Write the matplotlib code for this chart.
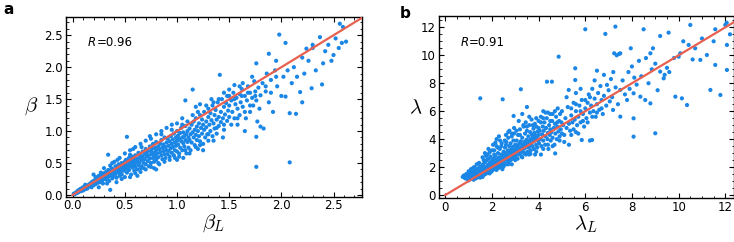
import numpy as np
import matplotlib.pyplot as plt
from matplotlib.ticker import MultipleLocator

plt.rcParams['mathtext.fontset'] = 'cm'
plt.rcParams['font.family'] = 'DejaVu Sans'

BLUE = '#1a86e6'
RED = '#e8604f'

# ---------------- panel a : beta_L vs beta ----------------
points_a = [
    (0.01,0.02),(0.02,0.01),(0.03,0.04),(0.04,0.03),(0.05,0.07),(0.05,0.04),(0.06,0.05),(0.07,0.09),
    (0.08,0.06),(0.08,0.1),(0.09,0.08),(0.1,0.12),(0.1,0.07),(0.11,0.1),(0.12,0.14),(0.12,0.09),
    (0.13,0.11),(0.14,0.15),(0.14,0.1),(0.15,0.13),(0.12,0.16),
    (0.16,0.17),(0.17,0.14),(0.18,0.2),(0.18,0.12),(0.19,0.17),(0.2,0.22),(0.2,0.15),(0.21,0.19),
    (0.22,0.25),(0.22,0.17),(0.23,0.21),(0.24,0.27),(0.24,0.19),(0.25,0.23),(0.25,0.3),(0.26,0.2),
    (0.26,0.26),(0.27,0.24),(0.28,0.31),(0.28,0.21),(0.29,0.27),(0.3,0.25),(0.3,0.34),(0.22,0.28),
    (0.27,0.35),(0.29,0.18),(0.36,0.08),
    (0.31,0.29),(0.32,0.36),(0.32,0.24),(0.33,0.31),(0.34,0.39),(0.34,0.28),(0.35,0.33),(0.35,0.22),
    (0.36,0.37),(0.37,0.3),(0.37,0.42),(0.38,0.34),(0.38,0.26),(0.39,0.4),(0.4,0.36),(0.4,0.3),
    (0.41,0.45),(0.41,0.33),(0.42,0.39),(0.42,0.27),(0.43,0.42),(0.44,0.35),(0.44,0.48),(0.45,0.4),
    (0.45,0.3),(0.46,0.44),(0.46,0.36),(0.47,0.5),(0.47,0.32),(0.48,0.42),(0.48,0.47),(0.49,0.38),
    (0.5,0.45),(0.5,0.52),(0.34,0.63),(0.38,0.5),(0.43,0.55),(0.36,0.46),(0.47,0.25),
    (0.51,0.41),(0.51,0.55),(0.52,0.48),(0.52,0.35),(0.53,0.51),(0.53,0.44),(0.54,0.58),(0.54,0.39),
    (0.55,0.5),(0.55,0.46),(0.56,0.54),(0.56,0.32),(0.57,0.6),(0.57,0.43),(0.58,0.52),(0.58,0.48),
    (0.59,0.56),(0.59,0.38),(0.6,0.62),(0.6,0.5),(0.6,0.44),(0.61,0.57),(0.62,0.53),(0.62,0.4),
    (0.63,0.66),(0.63,0.47),(0.64,0.58),(0.64,0.51),(0.65,0.62),(0.65,0.36),(0.66,0.55),(0.66,0.45),
    (0.67,0.68),(0.67,0.6),(0.68,0.5),(0.68,0.42),(0.69,0.64),(0.69,0.56),(0.7,0.72),(0.7,0.48),
    (0.52,0.91),(0.58,0.72),(0.62,0.3),(0.55,0.63),(0.66,0.75),
    (0.71,0.6),(0.71,0.66),(0.72,0.53),(0.72,0.7),(0.73,0.62),(0.73,0.45),(0.74,0.76),(0.74,0.57),
    (0.75,0.68),(0.75,0.5),(0.76,0.64),(0.76,0.72),(0.77,0.58),(0.77,0.8),(0.78,0.66),(0.78,0.52),
    (0.79,0.74),(0.79,0.61),(0.8,0.7),(0.8,0.83),(0.8,0.55),(0.81,0.65),(0.82,0.76),(0.82,0.59),
    (0.83,0.72),(0.83,0.48),(0.84,0.8),(0.84,0.67),(0.85,0.62),(0.85,0.86),(0.86,0.74),(0.86,0.56),
    (0.87,0.69),(0.87,0.79),(0.88,0.64),(0.88,0.9),(0.89,0.75),(0.89,0.58),(0.9,0.82),(0.9,0.7),
    (0.74,0.92),(0.78,0.42),(0.85,0.95),(0.8,0.4),
    (0.91,0.64),(0.91,0.88),(0.92,0.77),(0.92,0.69),(0.93,0.84),(0.93,0.6),(0.94,0.92),(0.94,0.73),
    (0.95,0.8),(0.95,0.66),(0.96,0.87),(0.96,0.75),(0.97,0.96),(0.97,0.62),(0.98,0.82),(0.98,0.7),
    (0.99,0.9),(0.99,0.77),(1.0,0.85),(1.0,1.0),(1.0,0.68),(1.01,0.93),(1.01,0.79),(1.02,0.88),
    (1.02,0.6),(1.03,0.97),(1.03,0.74),(1.04,0.84),(1.04,1.05),(1.05,0.9),(1.05,0.7),(1.06,0.81),
    (1.06,0.98),(1.07,0.76),(1.07,0.92),(1.08,0.86),(1.08,1.08),(1.09,0.65),(1.09,0.95),(1.1,0.83),
    (1.1,1.0),(0.95,1.1),(1.05,1.2),(1.08,1.48),(1.0,0.55),(1.06,0.58),
    (1.11,0.9),(1.11,0.74),(1.12,1.04),(1.12,0.86),(1.13,0.95),(1.13,0.7),(1.14,1.1),(1.14,0.82),
    (1.15,0.98),(1.15,1.65),(1.16,0.9),(1.16,1.15),(1.17,0.78),(1.17,1.02),(1.18,0.94),(1.18,1.2),
    (1.19,0.86),(1.19,1.07),(1.2,1.0),(1.2,0.72),(1.21,1.12),(1.21,0.92),(1.22,1.25),(1.22,0.84),
    (1.23,1.05),(1.24,0.96),(1.24,1.18),(1.25,0.8),(1.25,1.1),(1.26,1.02),(1.26,1.3),(1.27,0.9),
    (1.28,1.15),(1.28,1.06),(1.29,0.95),(1.3,1.22),(1.3,1.35),(1.3,0.85),(1.18,1.38),(1.25,0.7),
    (1.22,1.42),
    (1.31,1.1),(1.32,1.0),(1.32,1.28),(1.33,1.17),(1.34,0.92),(1.34,1.4),(1.35,1.12),(1.36,1.25),
    (1.36,1.04),(1.37,1.33),(1.38,1.18),(1.38,0.96),(1.39,1.45),(1.4,1.22),(1.4,1.08),(1.41,1.88),
    (1.42,1.3),(1.42,1.14),(1.43,1.5),(1.44,1.2),(1.45,1.38),(1.45,1.02),(1.46,1.26),(1.47,1.44),
    (1.48,1.16),(1.48,1.55),(1.49,1.32),(1.5,1.22),(1.5,1.4),(1.35,0.85),(1.44,0.9),
    (1.52,1.48),(1.53,1.3),(1.54,1.6),(1.55,1.2),(1.56,1.42),(1.57,1.52),(1.58,1.35),(1.6,1.58),
    (1.6,1.25),(1.61,1.45),(1.62,1.66),(1.63,1.38),(1.65,1.55),(1.66,1.2),(1.67,1.48),(1.68,1.7),
    (1.7,1.6),(1.7,1.3),(1.72,1.52),(1.73,1.4),(1.74,1.78),(1.75,1.62),(1.76,1.48),(1.77,1.15),
    (1.78,1.68),(1.79,1.35),(1.8,1.56),(1.8,1.07),(1.83,1.04),(1.76,0.91),(1.76,0.44),(1.76,2.06),
    (1.58,1.1),(1.65,1.0),(1.72,1.85),(1.55,1.72),
    (1.82,1.75),(1.85,1.62),(1.86,1.9),(1.88,2.21),(1.88,1.45),(1.9,1.8),(1.92,1.3),(1.94,1.95),
    (1.96,1.7),(1.98,2.51),(2.0,1.55),(2.02,1.85),(2.04,2.38),(2.04,1.54),(2.06,1.95),(2.08,1.28),
    (2.08,0.51),(2.1,1.75),(2.12,2.0),(2.14,1.27),(2.15,1.85),(2.18,1.61),(2.2,2.15),(2.22,1.9),
    (2.24,2.29),(2.26,2.1),(2.29,1.67),(2.3,2.3),(2.33,1.95),(2.37,2.47),(2.39,1.73),(2.4,2.06),
    (2.42,2.25),(2.45,2.35),(2.48,2.1),(2.5,2.19),(2.52,2.45),(2.56,2.68),(2.58,2.38),(2.59,2.63),
    (2.62,2.4),(2.2,1.45),(1.95,2.1),(2.3,2.35),(2.55,2.3),
    # edges of the dense band
    (0.2,0.32),(0.25,0.12),(0.3,0.42),(0.33,0.18),(0.4,0.52),(0.42,0.2),(0.45,0.58),(0.5,0.28),
    (0.5,0.65),(0.55,0.7),(0.55,0.28),(0.6,0.75),(0.6,0.34),(0.65,0.8),(0.65,0.42),(0.7,0.85),
    (0.7,0.4),(0.75,0.88),(0.75,0.44),(0.8,0.95),(0.82,0.5),(0.85,1.0),(0.88,0.52),(0.9,1.05),
    (0.93,0.55),(0.95,1.02),(0.98,0.58),(1.0,1.12),(1.02,0.65),(1.05,1.1),(1.08,0.7),(1.1,1.15),
    (1.12,0.65),(1.15,1.25),(1.18,0.75),(1.2,1.3),(1.22,0.78),(1.28,1.4),(1.3,0.95),(1.35,1.45),
    (1.38,1.05),(1.4,1.5),(1.45,1.1),(1.5,1.55),(1.52,1.1),(1.55,1.5),(1.58,1.2),(1.62,1.55),
    (1.65,1.3),(1.68,1.6),(1.7,1.4),(1.75,1.55),(1.63,1.75),(1.45,1.6),(1.33,1.5),(1.5,1.65),
    (1.6,1.7),(1.9,1.6),(1.85,1.7),(1.95,1.85),
]

# ---------------- panel b : lambda_L vs lambda ----------------
points_b = [
    (0.75,1.3),(0.8,1.4),(0.85,1.2),(0.9,1.35),(0.9,1.5),(0.95,1.15),(0.95,1.28),(1.0,1.4),
    (1.0,1.05),(1.02,1.6),(1.05,1.25),(1.08,1.45),(1.1,1.15),(1.12,1.35),(1.15,1.7),(1.15,1.5),
    (1.18,1.25),(1.2,1.4),(1.22,1.1),(1.25,1.55),(1.28,1.3),(1.3,1.8),(1.3,1.45),(1.32,1.2),
    (1.35,1.6),(1.38,1.38),(1.4,1.9),(1.4,1.28),(1.42,1.5),(1.45,1.7),(1.47,1.35),(1.5,1.55),
    (1.5,2.05),(1.5,1.25),(1.1,1.85),(1.25,2.0),
    (1.52,1.42),(1.54,1.8),(1.56,1.62),(1.58,1.35),(1.6,1.95),(1.6,1.5),(1.62,2.2),(1.64,1.7),
    (1.66,1.45),(1.68,1.85),(1.7,2.35),(1.7,1.6),(1.72,2.0),(1.74,1.52),(1.76,1.75),(1.78,2.5),
    (1.8,1.9),(1.8,1.62),(1.82,2.15),(1.84,1.8),(1.86,2.6),(1.88,1.7),(1.9,2.05),(1.9,2.3),
    (1.92,1.85),(1.94,2.75),(1.96,1.65),(1.98,2.2),(2.0,1.95),(2.0,2.45),(1.75,2.8),(1.65,2.5),
    (1.9,3.05),(1.5,6.92),
    (2.02,1.75),(2.04,2.1),(2.06,2.6),(2.08,1.9),(2.1,2.35),(2.1,3.2),(2.12,2.05),(2.14,2.8),
    (2.16,1.85),(2.18,2.25),(2.2,2.55),(2.2,3.5),(2.22,2.0),(2.24,2.4),(2.26,3.0),(2.28,2.15),
    (2.3,2.7),(2.3,1.95),(2.32,2.45),(2.34,3.3),(2.36,2.25),(2.38,2.6),(2.4,2.9),(2.4,2.05),
    (2.42,3.7),(2.44,2.35),(2.46,2.75),(2.48,2.15),(2.5,3.1),(2.5,2.5),(2.2,4.0),(2.35,3.9),
    (2.45,1.85),(2.15,3.75),(2.3,4.2),(2.46,6.85),
    (2.52,2.3),(2.54,2.85),(2.56,3.4),(2.58,2.6),(2.6,2.2),(2.6,3.0),(2.62,3.8),(2.64,2.75),
    (2.66,2.45),(2.68,3.2),(2.7,2.9),(2.7,4.1),(2.72,2.35),(2.74,3.5),(2.76,2.65),(2.78,3.05),
    (2.8,2.5),(2.8,3.7),(2.82,3.25),(2.84,2.8),(2.86,4.4),(2.88,3.0),(2.9,2.6),(2.9,3.45),
    (2.92,3.9),(2.94,2.95),(2.96,3.2),(2.98,2.7),(3.0,3.6),(3.0,3.05),(2.75,4.6),(2.95,4.8),
    (2.6,4.3),(2.85,2.2),(2.93,5.66),
    (3.02,2.8),(3.04,3.35),(3.06,3.9),(3.08,3.1),(3.1,2.6),(3.1,3.55),(3.12,4.3),(3.14,3.2),
    (3.16,2.9),(3.18,3.7),(3.2,3.4),(3.2,4.7),(3.22,3.0),(3.24,3.85),(3.26,3.25),(3.28,2.75),
    (3.3,3.6),(3.3,4.1),(3.32,3.15),(3.34,3.45),(3.36,4.9),(3.38,3.0),(3.4,3.8),(3.4,3.35),
    (3.42,4.4),(3.44,3.6),(3.46,2.9),(3.48,3.95),(3.5,3.45),(3.5,4.6),(3.3,5.8),(3.5,6.3),
    (3.45,5.2),(3.15,5.3),(3.24,7.57),
    (3.52,3.1),(3.54,3.7),(3.56,4.2),(3.58,3.4),(3.6,3.9),(3.6,5.0),(3.62,3.55),(3.64,4.5),
    (3.66,3.2),(3.68,4.0),(3.7,3.75),(3.7,5.4),(3.72,4.3),(3.74,3.5),(3.76,4.1),(3.78,4.75),
    (3.8,3.85),(3.8,3.3),(3.82,4.45),(3.84,5.1),(3.86,3.95),(3.88,4.25),(3.9,3.6),(3.9,4.9),
    (3.92,4.1),(3.94,3.4),(3.96,4.55),(3.98,3.9),(4.0,4.3),(4.0,5.3),(3.65,2.95),(3.85,2.9),
    (4.02,3.7),(4.05,4.6),(4.08,4.0),(4.1,5.6),(4.12,3.5),(4.15,4.35),(4.18,4.9),(4.2,3.9),
    (4.22,4.6),(4.25,5.2),(4.28,3.6),(4.3,4.2),(4.32,4.8),(4.35,5.5),(4.38,4.0),(4.4,4.45),
    (4.42,3.3),(4.45,5.0),(4.48,4.3),(4.5,4.7),(4.5,5.8),(4.2,6.0),(4.4,5.9),(4.1,2.9),
    (4.36,8.11),(4.57,8.11),
    (4.52,3.9),(4.55,4.5),(4.58,5.3),(4.6,4.1),(4.65,4.8),(4.68,3.6),(4.7,5.1),(4.71,2.98),
    (4.72,4.4),(4.75,5.6),(4.78,4.0),(4.8,4.9),(4.82,6.2),(4.85,4.55),(4.86,9.9),(4.88,5.3),
    (4.9,4.2),(4.92,5.8),(4.95,4.7),(4.98,5.2),(5.0,4.4),(5.0,6.0),
    (5.05,5.0),(5.1,4.3),(5.15,5.5),(5.2,4.8),(5.25,6.3),(5.29,7.52),(5.3,5.1),(5.35,4.6),
    (5.4,5.7),(5.45,5.2),(5.5,6.6),(5.5,4.7),(5.55,5.4),(5.57,9.07),(5.57,8.23),(5.6,6.0),
    (5.65,5.0),(5.7,5.6),(5.75,6.4),(5.8,5.2),(5.85,3.94),(5.85,6.8),(5.9,5.8),(5.95,4.9),
    (6.0,6.2),(6.0,11.86),(5.3,3.6),(5.7,4.4),(5.2,7.0),(5.6,7.3),(5.8,7.6),
    (6.05,5.5),(6.1,6.6),(6.15,7.2),(6.2,5.9),(6.25,6.4),(6.29,3.94),(6.3,7.6),(6.35,6.0),
    (6.4,6.9),(6.45,5.6),(6.5,8.9),(6.5,6.5),(6.55,7.3),(6.6,6.1),(6.65,7.8),(6.7,6.8),
    (6.75,5.8),(6.8,7.1),(6.86,11.53),(6.9,6.4),(6.93,7.88),(7.0,7.5),(7.05,6.7),(7.1,8.3),
    (7.15,7.0),(7.19,6.09),(7.24,10.14),(7.29,12.05),(7.3,7.7),(7.35,10.0),(7.4,6.5),(7.45,10.1),
    (7.5,10.14),(7.5,7.52),(7.5,5.61),(6.4,8.2),(6.8,8.6),(7.2,8.8),(6.2,3.9),
    (7.6,8.2),(7.7,7.2),(7.79,6.8),(7.85,8.8),(7.9,7.6),(8.0,9.2),(8.07,7.28),(8.07,5.49),
    (8.07,4.18),(8.1,8.4),(8.2,7.9),(8.3,9.6),(8.36,7.04),(8.4,8.5),(8.5,11.86),(8.57,6.8),
    (8.6,9.8),(8.71,8.0),(8.79,10.14),(8.79,6.56),(8.85,9.0),(9.0,4.42),(9.0,9.4),(9.1,7.5),
    (9.21,11.38),(9.21,8.83),(9.36,8.35),(9.4,8.6),(9.57,11.62),(9.6,8.8),(9.8,9.8),(9.86,7.04),
    (10.07,10.14),(10.14,6.92),(10.2,11.0),(10.36,6.44),(10.43,10.74),(10.5,12.17),(10.6,9.7),
    (10.71,10.5),(10.93,9.67),(11.0,11.2),(11.21,10.02),(11.36,7.52),(11.5,11.0),(11.57,11.86),
    (11.57,9.31),(11.79,7.16),(12.0,12.17),(12.07,10.74),(12.07,8.95),(12.2,11.5),(9.5,9.1),
    (8.9,10.5),(10.0,9.9),(7.95,10.5),(12.06,12.33),
    # edges of the dense band
    (1.2,1.95),(1.35,2.2),(1.45,2.3),(1.6,2.7),(1.7,3.0),(1.8,2.9),(1.85,3.3),(2.0,3.2),
    (2.05,3.6),(2.1,2.9),(2.25,3.4),(2.4,3.5),(2.55,3.9),(2.6,3.6),(2.7,4.5),(2.85,4.2),
    (2.95,4.4),(3.05,4.6),(3.2,4.3),(3.35,5.0),(3.5,4.9),(3.6,5.6),(3.75,5.0),(3.9,5.5),
    (4.0,4.8),(4.1,5.2),(4.2,5.5),(4.3,5.9),(4.5,5.3),(4.6,5.8),(4.7,6.0),(4.8,5.2),
    (1.0,1.7),(1.3,1.65),(1.6,1.3),(1.9,1.55),(2.2,1.8),(2.5,2.05),(2.7,2.2),(3.0,2.5),
    (3.3,2.7),(3.6,2.9),(3.9,3.1),(4.2,3.3),(4.4,3.6),(4.6,3.5),(4.9,3.9),(5.1,3.8),
    (5.4,4.3),(5.6,4.5),(5.9,5.3),(6.1,5.2),(6.3,5.6),(6.5,5.9),(6.7,6.2),(5.4,6.2),
    (5.6,6.5),(5.8,6.0),(6.0,6.8),(6.2,7.0),
]

r_values = ["0.96", "0.91"]
x_labels = [r'$\beta_L$', r'$\lambda_L$']
y_labels = [r'$\beta$', r'$\lambda$']
panel_tags = ["a", "b"]

xlims = [(-0.064, 2.77), (-0.28, 12.36)]
ylims = [(-0.027, 2.79), (-0.21, 12.81)]
majors = [0.5, 2]
minors = [0.1, 0.5]
ylabel_pads = [10, 4]

fig = plt.figure(figsize=(7.34, 2.42), dpi=100)
axes = [fig.add_axes([66/734, 1 - 196.7/242, 295.7/734, 180/242]),
        fig.add_axes([438.7/734, 1 - 198/242, 295/734, 182/242])]

for i, (ax, pts) in enumerate(zip(axes, [points_a, points_b])):
    pts = np.array(pts)
    ax.scatter(pts[:, 0], pts[:, 1], s=9, color=BLUE, edgecolors='none', zorder=2)
    lo, hi = xlims[i]
    ax.plot([0, hi * 1.05], [0, hi * 1.05], color=RED, lw=1.6, zorder=3)
    ax.set_xlim(*xlims[i])
    ax.set_ylim(*ylims[i])
    ax.xaxis.set_major_locator(MultipleLocator(majors[i]))
    ax.yaxis.set_major_locator(MultipleLocator(majors[i]))
    ax.xaxis.set_minor_locator(MultipleLocator(minors[i]))
    ax.yaxis.set_minor_locator(MultipleLocator(minors[i]))
    ax.tick_params(which='both', direction='in', top=True, right=True, labelsize=8.5, pad=2)
    ax.tick_params(which='major', length=3.5, width=0.8)
    ax.tick_params(which='minor', length=1.8, width=0.6)
    if i == 0:
        ax.xaxis.set_major_formatter(plt.FormatStrFormatter('%.1f'))
        ax.yaxis.set_major_formatter(plt.FormatStrFormatter('%.1f'))
    for sp in ax.spines.values():
        sp.set_linewidth(1.0)
    ax.set_xlabel(x_labels[i], fontsize=15, labelpad=0)
    ax.set_ylabel(y_labels[i], fontsize=15, labelpad=ylabel_pads[i], rotation=0, va='center')
    r_txt = ax.text(0.075, 0.855, 'R', transform=ax.transAxes, fontsize=8.5,
                    fontstyle='italic', va='center')
    ax.annotate('=' + r_values[i], xy=(1, 0.5), xycoords=r_txt, fontsize=8.5,
                va='center', ha='left')

fig.text(3/734, 1 - 9/242, panel_tags[0], fontsize=11, fontweight='bold', va='center')
fig.text(400/734, 1 - 13/242, panel_tags[1], fontsize=11, fontweight='bold', va='center')

fig.savefig('out.png', dpi=100)
